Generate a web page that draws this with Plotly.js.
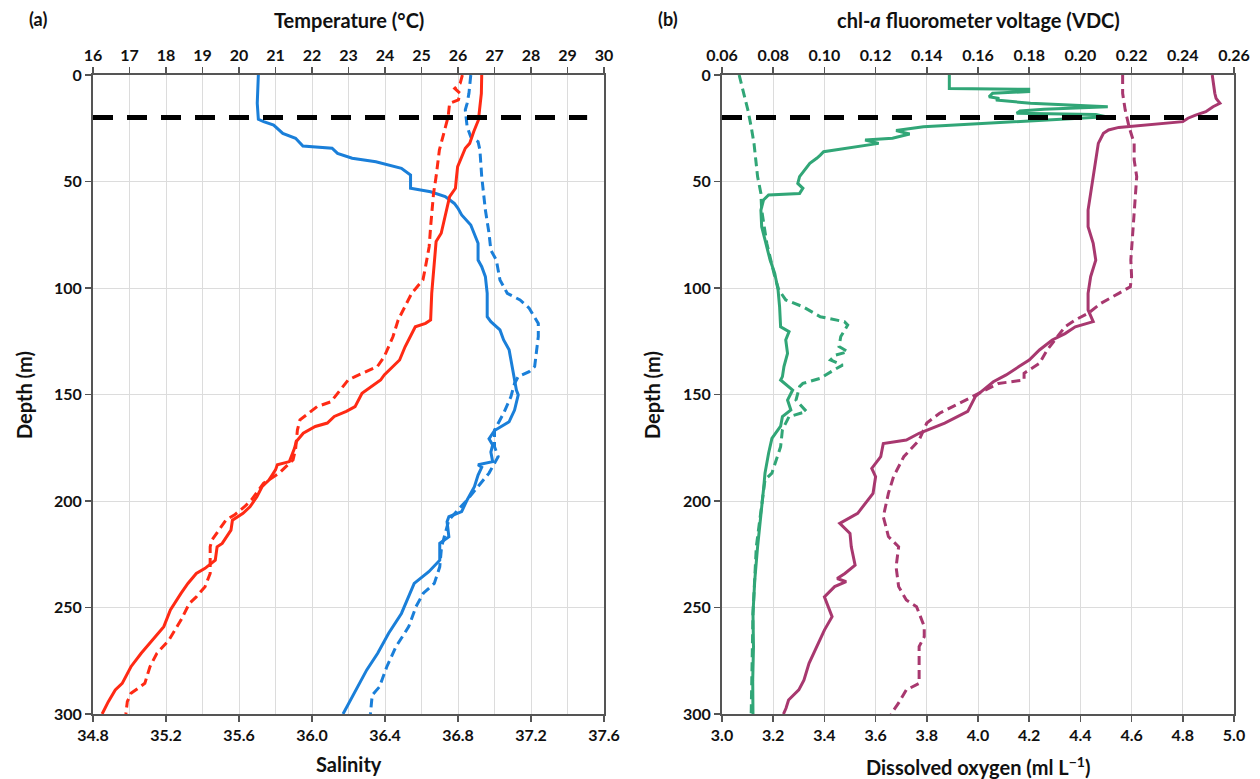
<!DOCTYPE html>
<html>
<head>
<meta charset="utf-8">
<script src="https://cdn.plot.ly/plotly-3.0.1.min.js"></script>
<style>
html,body{margin:0;padding:0;background:#fff;}
#chart{width:1260px;height:779px;}
</style>
</head>
<body>
<div id="chart"></div>
<script>
// ---------- Panel (a): temperature (top axis) and salinity (bottom axis) ----------
var tempSolidDepth = [0,8.6,16.4,21.1,26.6,32.1,34.4,38.3,43,47.7,53.2,57.1,63.4,74.3,78.2,86.9,102.5,115,116.6,118.2,122.8,127.6,133.8,136.9,140.8,143.2,149.4,155.7,157.9,160.3,163.4,165,168.2,172.1,175.3,181.5,183,185.4,190.2,193.3,198,202.7,205.8,209,213.7,219.9,221.5,227.8,231.6,234,238.7,243.4,251.2,259,263.7,271.5,277.8,280.9,285.6,288.7,294.2,300];
var tempSolid = [26.65,26.64,26.59,26.56,26.43,26.32,26.2,26.1,25.99,25.96,25.93,25.77,25.68,25.54,25.4,25.35,25.28,25.25,25.11,24.83,24.69,24.55,24.4,24.22,23.98,23.88,23.37,23.18,22.94,22.61,22.42,22.09,21.76,21.57,21.52,21.38,21.05,21.0,20.82,20.63,20.49,20.3,20.11,19.82,19.78,19.54,19.4,19.35,19.07,18.83,18.6,18.41,18.12,17.94,17.7,17.32,17.04,16.94,16.8,16.61,16.42,16.25];

var tempDashDepth = [0,3.9,6.3,8.6,11.7,13.3,19.6,29,35.2,47.7,55.6,71.2,80.6,90,96.2,102.5,108.8,115,122.8,132.2,136.9,139.3,141.6,143.2,149.4,153.4,155.7,161.9,166.7,175.7,180.7,186.9,191.7,199.5,202.7,206.6,209,218.3,221.5,234,240.2,245,248.1,255.9,265.3,271.5,277.8,285.6,290.3,294.2,300];
var tempDash = [26.12,26.06,25.91,26.06,26.01,25.77,25.73,25.58,25.49,25.4,25.33,25.25,25.21,25.11,25.04,24.73,24.55,24.36,24.22,23.98,23.79,23.46,23.18,22.99,22.7,22.52,22.14,21.67,21.6,21.55,21.48,21.1,20.67,20.34,20.15,19.87,19.64,19.26,19.21,19.21,19.07,18.83,18.64,18.41,18.08,17.75,17.56,17.42,17.04,16.94,16.9];

var salSolidDepth = [0,13.3,20.8,21.9,23.5,27.4,29.7,33.3,34.4,36.8,39.1,40.7,43.8,47,53.2,54.8,57.1,60.3,62.6,65.7,70.4,74.3,79,86.9,90,94.7,102.5,113.5,115.8,119.7,124.4,129,133.8,141.6,147.9,150.2,157.3,162.8,166.9,170.8,173.7,177,181.5,183,184.2,187.8,193.3,199.5,205,207.4,209.7,216.8,219.9,227.8,233.2,238.7,245,252.8,262.1,271.5,279.3,288.7,293.4,300];
var salSolid = [35.706,35.70,35.706,35.735,35.79,35.84,35.91,35.95,36.11,36.14,36.22,36.35,36.49,36.54,36.54,36.65,36.73,36.78,36.80,36.82,36.87,36.89,36.91,36.91,36.93,36.95,36.96,36.96,36.98,37.03,37.05,37.08,37.09,37.11,37.12,37.13,37.11,37.08,37.00,36.97,36.99,36.98,36.99,36.91,36.93,36.91,36.89,36.85,36.82,36.75,36.74,36.75,36.70,36.70,36.64,36.56,36.53,36.49,36.42,36.36,36.30,36.24,36.21,36.17];

var salDashDepth = [0,8.6,13.3,16.4,24.3,29,31.3,35.2,47.7,63.4,74.3,82.2,86.9,96.2,102.5,105.6,109.5,116.6,122.8,130.7,136.9,139.3,141.6,144.8,151,158.8,166.7,174.5,179.2,186.9,193.3,199.5,208.9,221.5,230.9,238.7,243.3,249.6,259,268.4,277.8,287.2,291.1,300];
var salDash = [36.87,36.86,36.85,36.84,36.85,36.87,36.91,36.92,36.93,36.95,36.97,36.98,37.01,37.03,37.07,37.14,37.19,37.24,37.24,37.23,37.22,37.19,37.13,37.11,37.09,37.05,37.00,37.00,37.02,36.97,36.91,36.85,36.75,36.71,36.70,36.67,36.61,36.57,36.53,36.46,36.41,36.37,36.33,36.32];

// ---------- Panel (b): chl-a voltage (top axis) and dissolved oxygen (bottom axis) ----------
var chlSolidDepth = [0,6.3,6.7,7.8,8.6,10.2,11,11.7,13.3,14.9,16.1,16.9,18,18.5,19.6,20.3,21.1,22.7,24.3,26.1,27.7,29.7,30.5,32.1,33.3,34.4,36,37.6,39.1,41.5,44.6,47.7,50.9,53.2,55.6,56.3,58.7,63.4,71.2,80.6,86.9,93.1,100.9,108.8,118.2,120.5,124.4,130.7,136.9,141.6,143.2,147.9,152.6,157.3,160.4,164.9,170.6,177.6,186.9,194.8,205.8,221.5,237.2,252.8,268.4,284.1,300];
var chlSolid = [0.1488,0.1488,0.1798,0.1798,0.1657,0.1643,0.1683,0.1670,0.1805,0.2107,0.1858,0.1764,0.1751,0.2060,0.2100,0.1993,0.1858,0.1590,0.1387,0.1280,0.1333,0.1266,0.1159,0.1212,0.1145,0.1091,0.0997,0.0984,0.0970,0.0943,0.0923,0.0903,0.0896,0.0916,0.0903,0.0782,0.0762,0.0752,0.0755,0.0775,0.0788,0.0806,0.0819,0.0825,0.0829,0.0862,0.0849,0.0856,0.0842,0.0836,0.0829,0.0876,0.0856,0.0869,0.0836,0.0829,0.0795,0.0782,0.0768,0.0762,0.0752,0.0739,0.0728,0.0721,0.0723,0.0720,0.0721];

var chlDashDepth = [0,8.6,16.4,24.3,32.1,39.9,47.7,55.6,63.4,79,94.7,100.9,105.6,108.8,113.5,115.8,117.4,122.8,127.5,129.9,131.5,133.8,136.2,138.5,142.4,144.8,146.3,152.6,158,160.4,166.5,174.5,179.2,186.9,190,205.8,221.5,252.8,300];
var chlDash = [0.0667,0.0685,0.0701,0.0714,0.0725,0.0732,0.0739,0.0752,0.0755,0.0775,0.0806,0.0822,0.0849,0.0916,0.0984,0.1078,0.1091,0.1064,0.1057,0.1091,0.1044,0.1024,0.1071,0.1037,0.0984,0.0916,0.0903,0.0889,0.0930,0.0862,0.0836,0.0829,0.0815,0.0795,0.0768,0.0752,0.0734,0.0721,0.0714];

var doSolidDepth = [0,5.5,8.6,11,13.3,14.9,17.2,18.8,20.3,21.9,23.5,24.6,25.8,27.4,32.1,39.9,47.7,55.6,63.4,71.2,79,86.9,94.7,102.5,110.3,115.8,118.2,121.4,124.4,129.1,133.8,136.9,140.8,144,147.9,150.9,157.9,163.4,168.2,171.4,173,179.2,184.7,188.6,196.4,205.8,210.5,215.2,221.5,230.1,234,236.4,237.9,240.2,245,251.2,254.3,260.6,268.4,276.2,284.1,288.7,293.4,297.3,300];
var doSolid = [4.915,4.92,4.925,4.93,4.945,4.918,4.89,4.85,4.82,4.80,4.66,4.55,4.51,4.49,4.47,4.46,4.45,4.44,4.43,4.43,4.45,4.46,4.44,4.43,4.43,4.45,4.38,4.34,4.29,4.24,4.20,4.16,4.11,4.06,4.02,3.99,3.96,3.87,3.77,3.72,3.63,3.62,3.585,3.60,3.59,3.53,3.46,3.50,3.505,3.52,3.48,3.45,3.485,3.44,3.40,3.42,3.43,3.40,3.37,3.34,3.32,3.30,3.26,3.25,3.24];

var doDashDepth = [0,8.6,16.4,24.3,32.1,39.9,47.7,55.6,63.4,71.2,79,86.9,94.7,99.4,102.5,107.2,111.9,115,118.2,122.8,129.1,135.4,140,143.2,144.8,150.9,158.8,163.4,171.4,179.2,188.6,196.4,207.4,211.9,216.7,221.5,230.9,240.2,246.5,249.6,258.9,263.7,268.4,277.8,285.6,288.7,294.8,300];
var doDash = [4.565,4.565,4.575,4.59,4.61,4.61,4.62,4.615,4.61,4.607,4.60,4.597,4.60,4.595,4.55,4.48,4.43,4.38,4.34,4.31,4.27,4.24,4.18,4.18,4.08,3.98,3.85,3.80,3.77,3.71,3.67,3.65,3.63,3.64,3.65,3.69,3.68,3.69,3.72,3.76,3.79,3.79,3.77,3.77,3.77,3.72,3.69,3.66];

// mixed-layer reference depth
var mldDepth = [20];

var tempTicks = [16,17,18,19,20,21,22,23,24,25,26,27,28,29,30];
var salTicks = [34.8,35.2,35.6,36.0,36.4,36.8,37.2,37.6];
var chlTicks = [0.06,0.08,0.10,0.12,0.14,0.16,0.18,0.20,0.22,0.24,0.26];
var doTicks = [3.0,3.2,3.4,3.6,3.8,4.0,4.2,4.4,4.6,4.8,5.0];
var depthTicks = [0,50,100,150,200,250,300];

// ---------- styling ----------
var FONT = 'Lato, "Noto Sans", sans-serif';
var RED = '#ff2a14', BLUE = '#1a7fd9', GREEN = '#31a677', PURPLE = '#a8386f';
var LW = 3;
var FRAME = '#555555', GRID = '#dcdcdc';

function tr(x, y, xa, ya, color, dash) {
  return {x: x, y: y, xaxis: xa, yaxis: ya, type: 'scatter', mode: 'lines',
    line: {color: color, width: LW, dash: dash || 'solid'}, hoverinfo: 'skip', showlegend: false};
}
var DASH = '9px,5px';
var data = [
  tr(tempSolid, tempSolidDepth, 'x2', 'y', RED),
  tr(tempDash, tempDashDepth, 'x2', 'y', RED, DASH),
  tr(salSolid, salSolidDepth, 'x', 'y', BLUE),
  tr(salDash, salDashDepth, 'x', 'y', BLUE, DASH),
  tr(chlSolid, chlSolidDepth, 'x4', 'y2', GREEN),
  tr(chlDash, chlDashDepth, 'x4', 'y2', GREEN, DASH),
  tr(doSolid, doSolidDepth, 'x3', 'y2', PURPLE),
  tr(doDash, doDashDepth, 'x3', 'y2', PURPLE, DASH)
];

var W = 1260, H = 779;
var aDom = [93 / W, 604 / W], bDom = [722 / W, 1234 / W];
var yDom = [1 - 714 / H, 1 - 75 / H];
var tickFont = {family: FONT, size: 16, color: '#111', weight: 700};
function bold(arr, dec) { return arr.map(function (v) { return '<b>' + (dec == null ? String(v) : v.toFixed(dec)) + '</b>'; }); }

function baseX(extra) {
  var o = {showline: true, linecolor: FRAME, linewidth: 2, ticks: 'outside', ticklen: 6,
    tickcolor: FRAME, tickwidth: 1.5, tickfont: tickFont, zeroline: false, fixedrange: true};
  for (var k in extra) o[k] = extra[k];
  return o;
}

var layout = {
  width: W, height: H,
  margin: {l: 0, r: 0, t: 0, b: 0},
  paper_bgcolor: '#ffffff', plot_bgcolor: '#ffffff',
  font: {family: FONT, color: '#111'},
  showlegend: false,
  xaxis: baseX({domain: aDom, anchor: 'y', side: 'bottom', range: [34.8, 37.6],
    tickvals: salTicks, ticktext: bold(salTicks, 1), showgrid: false}),
  xaxis2: baseX({domain: aDom, anchor: 'y', overlaying: 'x', side: 'top', range: [16, 30],
    tickvals: tempTicks, ticktext: bold(tempTicks), showgrid: true, gridcolor: GRID, gridwidth: 1}),
  xaxis3: baseX({domain: bDom, anchor: 'y2', side: 'bottom', range: [3.0, 5.0],
    tickvals: doTicks, ticktext: bold(doTicks, 1), showgrid: false}),
  xaxis4: baseX({domain: bDom, anchor: 'y2', overlaying: 'x3', side: 'top', range: [0.06, 0.26],
    tickvals: chlTicks, ticktext: bold(chlTicks, 2), showgrid: true, gridcolor: GRID, gridwidth: 1}),
  yaxis: baseX({domain: yDom, anchor: 'x', range: [300, 0], tickvals: depthTicks, ticktext: bold(depthTicks),
    showgrid: true, gridcolor: GRID, gridwidth: 1, mirror: true}),
  yaxis2: baseX({domain: yDom, anchor: 'x3', range: [300, 0], tickvals: depthTicks, ticktext: bold(depthTicks),
    showgrid: true, gridcolor: GRID, gridwidth: 1, mirror: true}),
  shapes: [
    {type: 'line', xref: 'x domain', yref: 'y', x0: 0, x1: 0.967, y0: mldDepth[0], y1: mldDepth[0],
      line: {color: '#000', width: 5, dash: '20px,14px'}, layer: 'above'},
    {type: 'line', xref: 'x3 domain', yref: 'y2', x0: 0, x1: 0.977, y0: mldDepth[0], y1: mldDepth[0],
      line: {color: '#000', width: 5, dash: '20px,14px'}, layer: 'above'}
  ],
  annotations: [
    {text: '<b>(a)</b>', xref: 'paper', yref: 'paper', x: 38 / W, y: 1 - 19 / H, xanchor: 'center', yanchor: 'middle',
      showarrow: false, font: {family: FONT, size: 18, color: '#111'}},
    {text: '<b>(b)</b>', xref: 'paper', yref: 'paper', x: 668 / W, y: 1 - 19 / H, xanchor: 'center', yanchor: 'middle',
      showarrow: false, font: {family: FONT, size: 18, color: '#111'}},
    {text: '<b>Temperature (°C)</b>', xref: 'paper', yref: 'paper', x: 348.5 / W, y: 1 - 20 / H, xanchor: 'center', yanchor: 'middle',
      showarrow: false, font: {family: FONT, size: 20, color: '#111'}},
    {text: '<b>chl-<i>a</i> fluorometer voltage (VDC)</b>', xref: 'paper', yref: 'paper', x: 978 / W, y: 1 - 20 / H, xanchor: 'center', yanchor: 'middle',
      showarrow: false, font: {family: FONT, size: 20, color: '#111'}},
    {text: '<b>Salinity</b>', xref: 'paper', yref: 'paper', x: 348.5 / W, y: 1 - 764 / H, xanchor: 'center', yanchor: 'middle',
      showarrow: false, font: {family: FONT, size: 20, color: '#111'}},
    {text: '<b>Dissolved oxygen (ml L<sup>−1</sup>)</b>', xref: 'paper', yref: 'paper', x: 978 / W, y: 1 - 766 / H, xanchor: 'center', yanchor: 'middle',
      showarrow: false, font: {family: FONT, size: 20, color: '#111'}},
    {text: '<b>Depth (m)</b>', xref: 'paper', yref: 'paper', x: 24 / W, y: 1 - 395 / H, xanchor: 'center', yanchor: 'middle', textangle: -90,
      showarrow: false, font: {family: FONT, size: 20, color: '#111'}},
    {text: '<b>Depth (m)</b>', xref: 'paper', yref: 'paper', x: 652 / W, y: 1 - 395 / H, xanchor: 'center', yanchor: 'middle', textangle: -90,
      showarrow: false, font: {family: FONT, size: 20, color: '#111'}}
  ]
};

Plotly.newPlot('chart', data, layout, {staticPlot: true, displayModeBar: false});
</script>
</body>
</html>
